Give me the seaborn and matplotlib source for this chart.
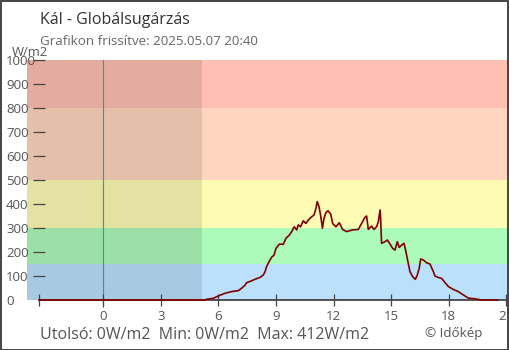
import matplotlib
matplotlib.use("Agg")
import matplotlib.pyplot as plt
from matplotlib.patches import Rectangle
import seaborn as sns
import pandas as pd

# ---- data ----
hours = [-3.33, 5.30, 5.39, 5.73, 6.0, 6.34, 6.69, 7.04, 7.21, 7.39, 7.47, 7.73, 7.99,
         8.17, 8.34, 8.43, 8.51, 8.64, 8.77, 8.9, 9.0, 9.18, 9.38, 9.52, 9.7, 9.82,
         9.95, 10.08, 10.16, 10.28, 10.42, 10.56, 10.68, 10.86, 10.98, 11.08, 11.15,
         11.24, 11.33, 11.42, 11.5, 11.6, 11.71, 11.85, 11.95, 12.12, 12.3, 12.47,
         12.68, 12.99, 13.29, 13.46, 13.63, 13.72, 13.81, 13.98, 14.1, 14.24, 14.33,
         14.42, 14.45, 14.5, 14.68, 14.8, 14.94, 15.08, 15.2, 15.32, 15.42, 15.55,
         15.67, 15.77, 15.89, 15.98, 16.12, 16.26, 16.36, 16.46, 16.54, 16.67, 16.85,
         17.02, 17.2, 17.28, 17.45, 17.63, 17.81, 17.98, 18.24, 18.5, 18.76, 19.02,
         19.36, 19.71, 20.55]
radiation = [0, 0, 3, 7, 17, 28, 35, 39, 49, 62, 72, 80, 89,
             94, 104, 118, 139, 160, 178, 187, 215, 233, 232, 257, 271, 285,
             305, 292, 313, 305, 330, 319, 333, 347, 354, 382, 410,
             389, 350, 299, 340, 364, 372, 358, 319, 305, 322, 294,
             285, 292, 294, 319, 344, 350, 294, 308, 294, 305, 326,
             375, 340, 236, 243, 250, 233, 215, 208, 243, 219, 229,
             236, 201, 153, 118, 97, 86, 104, 132, 171, 167, 155,
             150, 118, 100, 94, 90, 72, 56, 44, 35, 21, 8,
             5, 0, 0]

band_edges = [0, 150, 300, 500, 800, 1000]
band_colors = ["#bbe0fb", "#adfbbb", "#fefcb4", "#fed6bf", "#fec0b3"]

ytick_values = [0, 100, 200, 300, 400, 500, 600, 700, 800, 900, 1000]
xtick_values = [-3.33, 0, 3, 6, 9, 12, 15, 18, 21]
xtick_labels = ["", "0", "3", "6", "9", "12", "15", "18", "21"]

night_end = 5.15
title = "Kál - Globálsugárzás"
subtitle = "Grafikon frissítve: 2025.05.07 20:40"
footer = "Utolsó: 0W/m2  Min: 0W/m2  Max: 412W/m2"
credit = "© Időkép"
unit = "W/m2"

# ---- style ----
sns.set_theme(style="white")
plt.rcParams["font.family"] = ["Open Sans", "DejaVu Sans"]

W, H = 510, 350
fig = plt.figure(figsize=(W / 100, H / 100), dpi=100)
ax = fig.add_axes([27 / W, 50 / H, 483 / W, 240 / H])

xmin, xmax = -3.969, 21.19
ax.set_xlim(xmin, xmax)
ax.set_ylim(0, 1000)

for lo, hi, c in zip(band_edges[:-1], band_edges[1:], band_colors):
    ax.axhspan(lo, hi, color=c, lw=0, zorder=0)
ax.axvspan(xmin, night_end, color="black", alpha=0.1, lw=0, zorder=1)
ax.axvline(0, ymin=-0.028, ymax=1, color="#3a8ccc", lw=0.8, zorder=2, clip_on=False)

df = pd.DataFrame({"hour": hours, "rad": radiation})
sns.lineplot(data=df, x="hour", y="rad", ax=ax, color="#800000", lw=1.2,
             zorder=5, clip_on=False, estimator=None)

for s in ["top", "right"]:
    ax.spines[s].set_visible(False)
ax.spines["left"].set_position(("data", -3.33))
ax.spines["left"].set_color("none")
ax.spines["bottom"].set_bounds(-3.33, xmax)
ax.spines["bottom"].set_color("#444444")
ax.spines["bottom"].set_linewidth(1.3)
ax.spines["bottom"].set_zorder(4)

ax.set_xticks(xtick_values)
ax.set_xticklabels(xtick_labels)
ax.set_yticks(ytick_values)
ax.set_yticklabels([str(v) for v in ytick_values])
ax.set_xlabel("")
ax.set_ylabel("")

ax.tick_params(axis="x", direction="inout", length=9, width=0.9, color="#444444",
               labelsize=9.5, labelcolor="#555555", pad=3)
ax.tick_params(axis="y", direction="inout", length=9, width=0.9, color="#444444",
               labelsize=9.5, labelcolor="#555555", pad=19.4)
ax.tick_params(axis="both", which="both", bottom=True, left=True)
for lbl in ax.get_yticklabels():
    lbl.set_horizontalalignment("left")
ax.yaxis.get_major_ticks()[0].tick1line.set_visible(False)
ax.set_axisbelow(False)

# texts
fig.text(40 / W, 1 - 24 / H, title, fontsize=11.5, color="#333333", va="baseline")
fig.text(40 / W, 1 - 45 / H, subtitle, fontsize=9.6, color="#666666", va="baseline")
fig.text(12 / W, 1 - 56 / H, unit, fontsize=9.4, color="#555555", va="baseline")
fig.text(40 / W, 1 - 339 / H, footer, fontsize=11.5, color="#555555", va="baseline")
fig.text(425 / W, 1 - 337 / H, credit, fontsize=9.6, color="#555555", va="baseline")

fig.patches.append(Rectangle((0.5 / W, 0.5 / H), (W - 2) / W, (H - 1.5) / H,
                             transform=fig.transFigure, fill=False,
                             edgecolor="#444444", lw=1.4, figure=fig))

fig.savefig("out.png", dpi=100)
